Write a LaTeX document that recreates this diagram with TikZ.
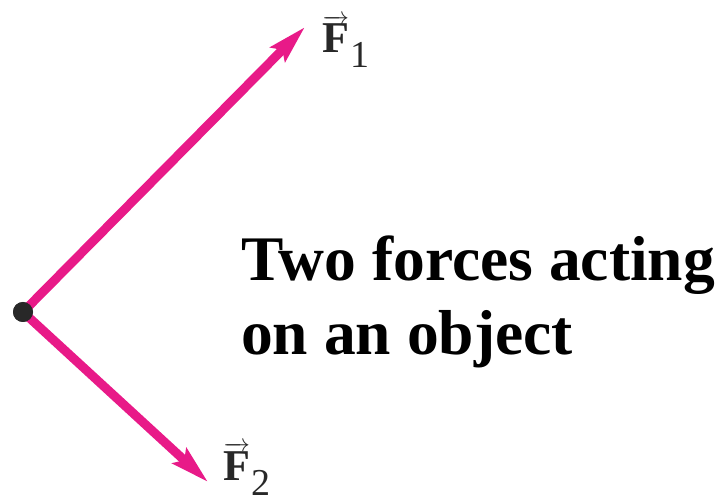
\documentclass[tikz,border=0pt]{standalone}
\usepackage{amsmath}
\usepackage{fontspec}
\setmainfont{Liberation Serif}
\usetikzlibrary{arrows.meta, positioning}
\definecolor{ForcePink}{RGB}{232,26,136}
\definecolor{DotGray}{RGB}{40,40,40}
\newcommand{\forcelabel}[1]{$\overrightarrow{\text{\bfseries F}}$\kern1pt\raisebox{-15pt}{\fontsize{38}{38}\selectfont #1}}

\begin{document}
\begin{tikzpicture}[x=1pt, y={(0pt,-1pt)}, >={Stealth[length=38pt, width=20pt, inset=6pt]}]
        \useasboundingbox (0,0) rectangle (724,500);
        % point of action and arrow tips
        \node [circle, fill=DotGray, inner sep=0pt, minimum size=20pt] (O) at (23,312) {};
        \coordinate (f1) at (305,27);
        \coordinate (f2) at (208,482);
        % the two forces
        \draw [->, ForcePink, line width=9pt] (O.center) -- (f1);
        \draw [->, ForcePink, line width=9pt] (O.center) -- (f2);
        \node [circle, fill=DotGray, inner sep=0pt, minimum size=20pt] at (O) {};
        \node [anchor=base west, inner sep=0pt, text=DotGray, font=\fontsize{44}{50}\selectfont] (F1) at (322,53) {\forcelabel{1}};
        \node [anchor=base west, inner sep=0pt, text=DotGray, font=\fontsize{44}{50}\selectfont] (F2) at (223,480) {\forcelabel{2}};
        % caption
        \node [anchor=base west, inner sep=0pt, font=\fontsize{63.5}{75}\selectfont\bfseries] (line1) at (241,280) {Two forces acting};
        \node [anchor=base west, inner sep=0pt, font=\fontsize{63.5}{75}\selectfont\bfseries] (line2) at (241,355) {on an object};
    \end{tikzpicture}
\end{document}
